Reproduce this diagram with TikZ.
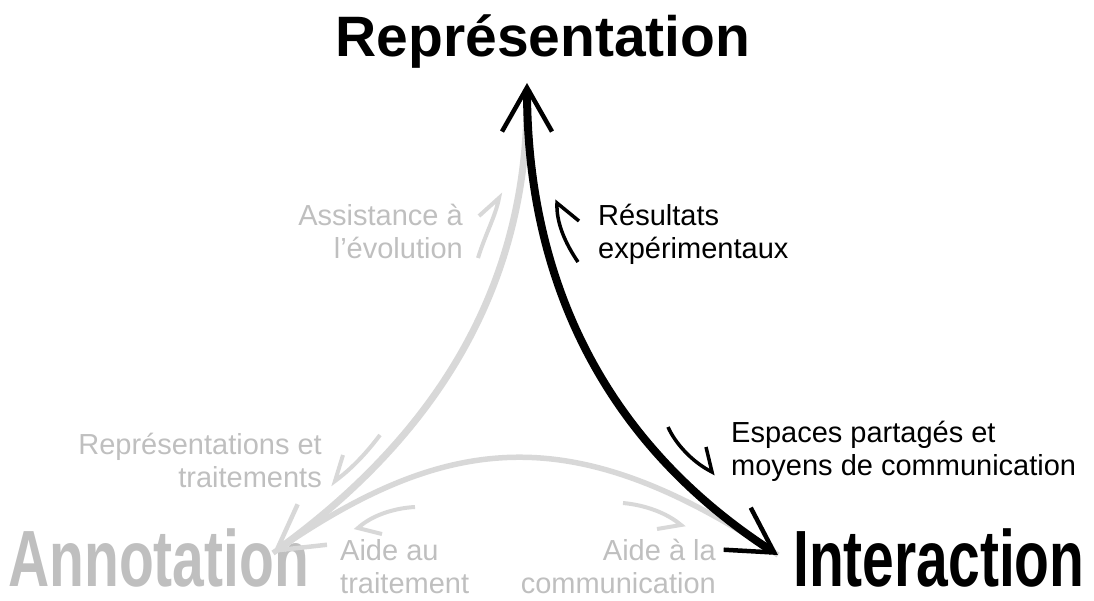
\documentclass[tikz,border=0pt]{standalone}
\usepackage{fontspec}
\setmainfont{Liberation Sans}
\usetikzlibrary{arrows.meta}
\definecolor{txtgray}{RGB}{191,191,191}
\definecolor{lngray}{RGB}{216,216,216}
\tikzset{
  bigbarb/.tip={Straight Barb[length=44pt 0 0, width=50pt 0 0, line width=4.5pt 0 0]},
  title/.style={font=\fontsize{57}{66}\selectfont\bfseries, inner sep=0pt},
  lbl/.style={font=\fontsize{29}{33}\selectfont, inner sep=0pt},
  harpG/.style={draw=lngray, line width=4pt, line join=miter, line cap=butt},
  harpB/.style={draw=black, line width=3.5pt, line join=miter, line cap=butt},
}
\begin{document}
\begin{tikzpicture}[x=1pt,y=-1pt]
\useasboundingbox (0,0) rectangle (1094,601);
% anchor points of the triangle
\coordinate (repT) at (527,83);
\coordinate (repG) at (527,100);
\coordinate (annT) at (273,553);
\coordinate (intT) at (778,555);
% titles
\node[title, anchor=base] (rep) at (543,57) {Représentation};
\node[title, txtgray, anchor=base west] (ann) at (8,586) {\scalebox{1}[1.4]{Annotation}};
\node[title, anchor=base west] (int) at (793,586) {\scalebox{1}[1.4]{Interaction}};
% gray connectors
\draw[lngray, line width=5.5pt] (annT) .. controls (450,430) and (575,420) .. (intT);
\draw[lngray, line width=7pt, -bigbarb] (repG) .. controls (527,283) and (440,432) .. (annT);
% small gray arrows
\draw[harpG] (478,258) .. controls (485,235) and (496,215) .. (499,198) -- (479,216);
\draw[harpG] (380,435) .. controls (365,455) and (350,470) .. (335,481) -- (343,455);
\draw[harpG] (415,507) .. controls (395,508) and (372,515) .. (358,528) -- (382,534);
\draw[harpG] (623,503) .. controls (645,505) and (667,513) .. (681,525) -- (657,529);
% black connector
\draw[black, line width=8pt, bigbarb-bigbarb] (repT) .. controls (527,290) and (612,448) .. (intT);
% small black arrows
\draw[harpB] (578,262) .. controls (565,243) and (556,222) .. (557,203) -- (579,221);
\draw[harpB] (668,427) .. controls (675,443) and (692,462) .. (712,472) -- (706,447);
% labels
\node[lbl, txtgray, align=right, anchor=north east] (assist) at (463,202) {\strut Assistance à\\l’évolution};
\node[lbl, align=left, anchor=north west] (res) at (598,202) {\strut Résultats\\expérimentaux};
\node[lbl, txtgray, align=right, anchor=north east] (reptr) at (322,431) {\strut Représentations et\\traitements};
\node[lbl, align=left, anchor=north west] (esp) at (731,419) {\strut Espaces partagés et\\moyens de communication};
\node[lbl, txtgray, align=left, anchor=north west] (aidet) at (340,537) {\strut Aide au\\traitement};
\node[lbl, txtgray, align=right, anchor=north east] (aidec) at (716,537) {\strut Aide à la\\communication};
\end{tikzpicture}
\end{document}
